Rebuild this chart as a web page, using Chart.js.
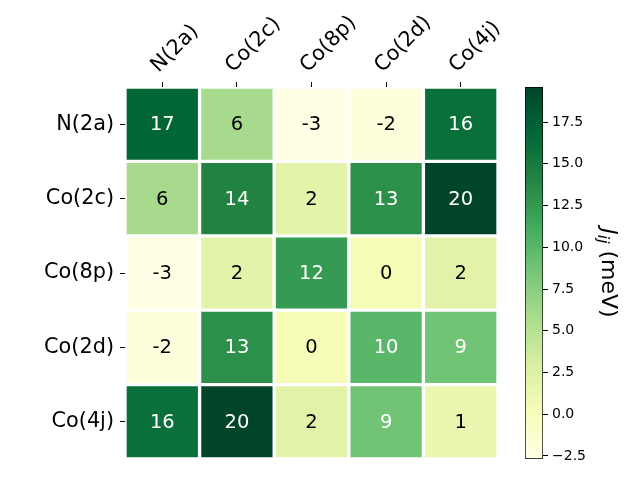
<!DOCTYPE html>
<html>
<head>
<meta charset="utf-8">
<script src="https://cdn.jsdelivr.net/npm/chart.js@4.4.1/dist/chart.umd.min.js"></script>
<style>
  html, body { margin: 0; padding: 0; background: #fff; }
  #wrap { position: relative; width: 640px; height: 480px; }
  #heatmap { position: absolute; left: 0; top: 0; }
  #colorbar { position: absolute; left: 500px; top: 0; }
</style>
</head>
<body>
<div id="wrap">
  <canvas id="heatmap" width="640" height="480"></canvas>
  <canvas id="colorbar" width="140" height="480"></canvas>
</div>
<script>
// sites (same order on both axes)
const sites = ['N(2a)', 'Co(2c)', 'Co(8p)', 'Co(2d)', 'Co(4j)'];

// J_ij in meV, one row per site
const jN2a  = [17.0, 6.0, -2.68, -2.2, 16.0];
const jCo2c = [6.0, 14.2, 2.0, 13.2, 19.6];
const jCo8p = [-2.68, 2.0, 12.4, 0.2, 2.1];
const jCo2d = [-2.2, 13.2, 0.2, 10.0, 8.8];
const jCo4j = [16.0, 19.6, 2.1, 8.8, 1.3];
const matrix = [jN2a, jCo2c, jCo8p, jCo2d, jCo4j];

// colorbar tick values
const cbTicks = [-2.5, 0, 2.5, 5, 7.5, 10, 12.5, 15, 17.5];

// YlGn colormap
const ylgn = ['#ffffe5', '#f7fcb9', '#d9f0a3', '#addd8e', '#78c679', '#41ab5d', '#238443', '#006837', '#004529'];

const allVals = matrix.flat();
const vMin = Math.min(...allVals);
const vMax = Math.max(...allVals);
const norm = v => (v - vMin) / (vMax - vMin);

function hexToRgb(h) {
    return [parseInt(h.slice(1, 3), 16), parseInt(h.slice(3, 5), 16), parseInt(h.slice(5, 7), 16)];
}
function cmap(t) {
    t = Math.min(1, Math.max(0, t));
    const s = t * (ylgn.length - 1);
    const i = Math.min(Math.floor(s), ylgn.length - 2);
    const f = s - i;
    const a = hexToRgb(ylgn[i]), b = hexToRgb(ylgn[i + 1]);
    const c = a.map((x, k) => Math.round(x + (b[k] - x) * f));
    return `rgb(${c[0]}, ${c[1]}, ${c[2]})`;
}

Chart.defaults.color = '#000';
Chart.defaults.font.family = '"DejaVu Sans", sans-serif';

// numbers written in each cell
const cellText = {
    id: 'cellText',
    afterDatasetsDraw(chart) {
        const ctx = chart.ctx;
        ctx.save();
        ctx.font = '19.5px "DejaVu Sans"';
        ctx.textAlign = 'center';
        ctx.textBaseline = 'middle';
        chart.data.datasets.forEach((ds, i) => {
            chart.getDatasetMeta(i).data.forEach((bar, j) => {
                const v = matrix[i][j];
                ctx.fillStyle = norm(v) > 0.5 ? '#fff' : '#000';
                ctx.fillText(String(Math.round(v)), bar.x, (bar.y + bar.base) / 2 + 1);
            });
        });
        ctx.restore();
    }
};

const heatDatasets = matrix.map((row, i) => ({
    label: sites[i],
    data: row.map(() => [i, i + 1]),
    backgroundColor: row.map(v => cmap(norm(v))),
    borderColor: '#fff',
    borderWidth: 2,
    borderSkipped: false,
    grouped: false,
    barPercentage: 1,
    categoryPercentage: 1
}));

new Chart(document.getElementById('heatmap'), {
    type: 'bar',
    data: { labels: sites, datasets: heatDatasets },
    options: {
        responsive: false,
        animation: false,
        layout: { padding: { left: 0, top: 0, right: 142, bottom: 21 } },
        plugins: { legend: { display: false }, tooltip: { enabled: false } },
        scales: {
            x: {
                type: 'category',
                position: 'top',
                offset: true,
                grid: { offset: false, drawOnChartArea: false, tickLength: 5, color: '#000', lineWidth: 1 },
                border: { display: false },
                ticks: { minRotation: 45, maxRotation: 45, padding: 4, labelOffset: 10, font: { size: 20.8 } },
                afterFit: s => { s.height = 87; }
            },
            y: {
                type: 'linear',
                min: 0,
                max: 5,
                reverse: true,
                afterBuildTicks: s => { s.ticks = sites.map((_, i) => ({ value: i + 0.5 })); },
                grid: { drawOnChartArea: false, tickLength: 5, color: '#000', lineWidth: 1 },
                border: { display: false },
                ticks: { padding: 6, font: { size: 20.8 }, callback: (v, idx) => sites[idx] },
                afterFit: s => { s.width = 125; }
            }
        }
    },
    plugins: [cellText]
});

// colorbar label: J_ij (meV), rotated
const cbLabel = {
    id: 'cbLabel',
    afterDraw(chart) {
        const ctx = chart.ctx;
        const y = (chart.chartArea.top + chart.chartArea.bottom) / 2;
        ctx.save();
        ctx.translate(102, y);
        ctx.rotate(Math.PI / 2);
        ctx.fillStyle = '#000';
        ctx.textBaseline = 'alphabetic';
        const fJ = 'italic 22px "DejaVu Sans"';
        const fSub = 'italic 15.5px "DejaVu Sans"';
        const fRest = '22px "DejaVu Sans"';
        ctx.font = fJ; const wJ = ctx.measureText('J').width;
        ctx.font = fSub; const wSub = ctx.measureText('ij').width;
        ctx.font = fRest; const wRest = ctx.measureText(' (meV)').width;
        let x = -(wJ + wSub + wRest) / 2;
        ctx.font = fJ; ctx.fillText('J', x, 0); x += wJ;
        ctx.font = fSub; ctx.fillText('ij', x, 4); x += wSub;
        ctx.font = fRest; ctx.fillText(' (meV)', x, 0);
        ctx.restore();
    }
};

new Chart(document.getElementById('colorbar'), {
    type: 'bar',
    data: {
        labels: [''],
        datasets: [{
            data: [[vMin, vMax]],
            backgroundColor: c => {
                const ch = c.chart;
                if (!ch.chartArea) return ylgn[4];
                const g = ch.ctx.createLinearGradient(0, ch.scales.y.getPixelForValue(vMin), 0, ch.scales.y.getPixelForValue(vMax));
                ylgn.forEach((col, k) => g.addColorStop(k / (ylgn.length - 1), col));
                return g;
            },
            borderColor: '#000',
            borderWidth: 1,
            borderSkipped: false,
            barPercentage: 1,
            categoryPercentage: 1
        }]
    },
    options: {
        responsive: false,
        animation: false,
        layout: { padding: { left: 25, top: 87, bottom: 21, right: 0 } },
        plugins: { legend: { display: false }, tooltip: { enabled: false } },
        scales: {
            x: { display: false },
            y: {
                position: 'right',
                min: vMin,
                max: vMax,
                afterBuildTicks: s => { s.ticks = cbTicks.map(v => ({ value: v })); },
                grid: { drawOnChartArea: false, tickLength: 5, color: '#000', lineWidth: 1 },
                border: { display: false },
                ticks: {
                    padding: 4,
                    font: { size: 14 },
                    callback: v => (v < 0 ? '\u2212' : '') + Math.abs(v).toFixed(1)
                },
                afterFit: s => { s.width = 97; }
            }
        }
    },
    plugins: [cbLabel]
});
</script>
</body>
</html>
